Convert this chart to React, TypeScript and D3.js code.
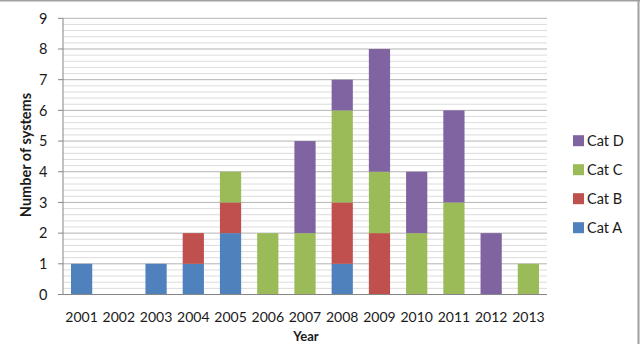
import React from "react";
import * as d3 from "d3";

const years = ["2001","2002","2003","2004","2005","2006","2007","2008","2009","2010","2011","2012","2013"];
const catA = [1,0,1,1,2,0,0,1,0,0,0,0,0];
const catB = [0,0,0,1,1,0,0,2,2,0,0,0,0];
const catC = [0,0,0,0,1,2,2,3,2,2,3,0,1];
const catD = [0,0,0,0,0,0,3,1,4,2,3,2,0];
const seriesNames = ["Cat A","Cat B","Cat C","Cat D"];
const seriesColors = ["#4F81BD","#C0504D","#9BBB59","#8064A2"];
const yTicks = [0,1,2,3,4,5,6,7,8,9];

const W = 640, H = 344;
const left = 63, right = 547, top = 18.3, bottom = 294.5;
const font = "Lato, 'Open Sans', sans-serif";

export default function App() {
  const rows = years.map((y, i) => ({ year: y, "Cat A": catA[i], "Cat B": catB[i], "Cat C": catC[i], "Cat D": catD[i] }));
  const stack = d3.stack<any>().keys(seriesNames)(rows);
  const x = d3.scaleBand().domain(years).range([left, right]).paddingInner(0.43).paddingOuter(0.215);
  const y = d3.scaleLinear().domain([0, 9]).range([bottom, top]);
  const minor = d3.range(0, 9.0001, 0.2).map(v => Math.round(v * 10) / 10).filter(v => Math.abs(v - Math.round(v)) > 1e-6);

  return (
    <svg width={W} height={H} style={{ position: "absolute", left: 0, top: 0, background: "#fff" }}>
      <rect x={0} y={0} width={W} height={H} fill="#fff" />
      <line x1={0} x2={640} y1={0.5} y2={0.5} stroke="#a0a0a0" strokeWidth={2} />
      <line x1={638.5} x2={638.5} y1={0} y2={344} stroke="#a0a0a0" strokeWidth={2} />
      {minor.map(v => (
        <line key={"m" + v} x1={left} x2={right} y1={y(v)} y2={y(v)} stroke="#dcdcdc" strokeWidth={1} />
      ))}
      {yTicks.filter(t => t > 0).map(t => (
        <line key={"g" + t} x1={left} x2={right} y1={y(t)} y2={y(t)} stroke="#b4b4b4" strokeWidth={1} />
      ))}
      {stack.map((s, si) => (
        <g key={s.key} fill={seriesColors[si]}>
          {s.map((d, i) => (d[1] - d[0] > 0 ? (
            <rect key={i} x={x(years[i])!} width={x.bandwidth()} y={y(d[1])} height={y(d[0]) - y(d[1])} />
          ) : null))}
        </g>
      ))}
      <line x1={left} x2={left} y1={top} y2={bottom} stroke="#868686" strokeWidth={1} />
      <line x1={58} x2={right} y1={bottom} y2={bottom} stroke="#868686" strokeWidth={1} />
      {yTicks.map(t => (
        <g key={"t" + t}>
          <line x1={58} x2={left} y1={y(t)} y2={y(t)} stroke="#868686" strokeWidth={1} />
          <text x={47.5} y={y(t)} dy="0.36em" textAnchor="end" fontFamily={font} fontSize={14.5} fill="#1a1a1a">{t}</text>
        </g>
      ))}
      {years.map(yr => (
        <text key={yr} x={x(yr)! + x.bandwidth() / 2} y={321.5} textAnchor="middle" fontFamily={font} fontSize={14} fill="#1a1a1a">{yr}</text>
      ))}
      <text x={306} y={341} textAnchor="middle" fontFamily={font} fontSize={13} fontWeight="bold" fill="#1a1a1a">Year</text>
      <text transform={`translate(31,155) rotate(-90)`} textAnchor="middle" fontFamily={font} fontSize={14.5} fontWeight="bold" fill="#1a1a1a">Number of systems</text>
      {[3, 2, 1, 0].map((si, k) => (
        <g key={"l" + si} transform={`translate(573,${140.7 + k * 29})`}>
          <rect x={0} y={-5.5} width={11} height={11} fill={seriesColors[si]} />
          <text x={14} y={0} dy="0.35em" fontFamily={font} fontSize={14.5} fill="#1a1a1a">{seriesNames[si]}</text>
        </g>
      ))}
    </svg>
  );
}
